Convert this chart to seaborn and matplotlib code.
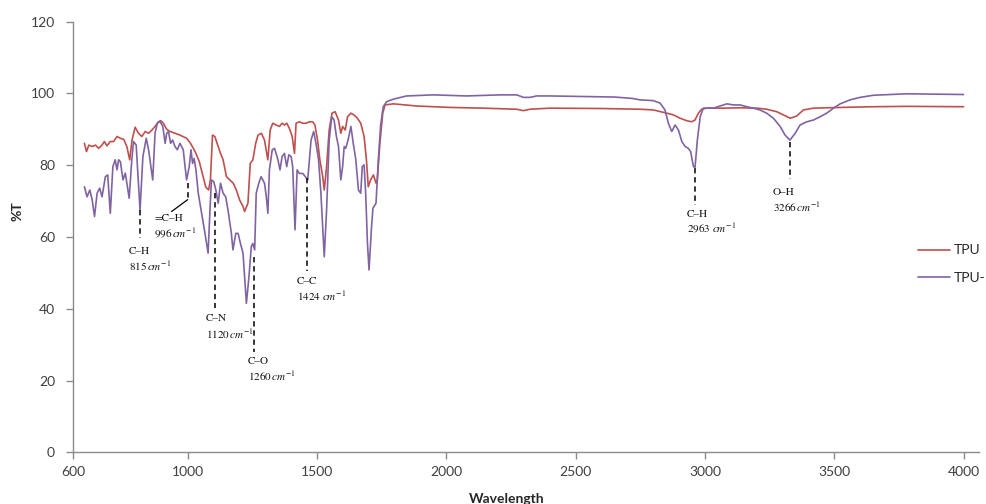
import matplotlib
matplotlib.use("Agg")
import pandas as pd
import seaborn as sns
import matplotlib.pyplot as plt

# spectra (wavenumber, %T)
tpu = [(601, 86.1), (609, 83.8), (618, 85.6), (631, 85.2), (644, 85.6), (656, 84.7), (669, 85.6),
       (678, 86.6), (688, 85.4), (701, 86.6), (714, 86.6), (727, 88.0), (740, 87.5), (753, 87.2),
       (765, 85.2), (776, 81.5), (785, 87.0), (797, 90.6), (810, 88.9), (823, 88.0), (836, 89.4),
       (849, 88.9), (862, 89.8), (874, 90.8), (887, 92.1), (896, 92.4), (906, 91.7), (919, 90.0),
       (932, 89.4), (951, 88.9), (970, 88.4), (996, 87.5), (1011, 86.1), (1022, 84.7), (1032, 83.3),
       (1045, 81.0), (1058, 77.3), (1070, 73.9), (1081, 73.1), (1088, 75.9), (1096, 88.4),
       (1105, 88.0), (1118, 85.2), (1127, 83.3), (1137, 81.5), (1150, 76.8), (1163, 75.9),
       (1176, 75.0), (1188, 73.1), (1201, 70.3), (1214, 68.5), (1220, 67.1), (1233, 69.4),
       (1242, 80.5), (1252, 81.5), (1263, 86.1), (1272, 88.4), (1285, 88.9), (1297, 87.0),
       (1310, 81.5), (1319, 89.8), (1329, 91.7), (1342, 91.2), (1355, 90.8), (1365, 91.7),
       (1374, 91.2), (1383, 91.7), (1393, 90.3), (1404, 88.0), (1413, 83.3), (1419, 91.7),
       (1432, 92.1), (1445, 91.7), (1458, 91.7), (1470, 92.1), (1483, 92.1), (1492, 91.2),
       (1502, 87.0), (1511, 81.5), (1522, 76.8), (1528, 73.1), (1537, 79.6), (1547, 89.8),
       (1558, 94.5), (1570, 94.9), (1583, 92.6), (1592, 88.9), (1599, 90.8), (1609, 89.8),
       (1618, 93.5), (1631, 94.5), (1643, 94.0), (1656, 93.1), (1669, 91.7), (1682, 88.0),
       (1691, 81.5), (1698, 74.0), (1707, 75.9), (1718, 77.3), (1728, 75.0), (1733, 75.9),
       (1743, 86.1), (1754, 94.5), (1763, 96.8), (1795, 97.1), (1885, 96.5), (2014, 96.1),
       (2143, 95.9), (2272, 95.6), (2298, 95.2), (2323, 95.6), (2401, 95.9), (2600, 95.8),
       (2749, 95.6), (2800, 95.4), (2852, 94.5), (2878, 94.0), (2903, 93.1), (2929, 92.4),
       (2948, 92.1), (2961, 92.6), (2974, 94.5), (2987, 95.6), (3006, 95.9), (3071, 95.9),
       (3135, 96.0), (3200, 95.9), (3238, 95.6), (3277, 94.9), (3303, 94.0), (3329, 93.1),
       (3354, 93.7), (3380, 95.4), (3419, 95.9), (3522, 96.1), (3651, 96.3), (3780, 96.4),
       (3999, 96.3)]

tpu_h = [(601, 74.0), (611, 71.2), (622, 73.1), (631, 70.3), (640, 65.7), (650, 72.2), (660, 73.6),
         (669, 71.2), (682, 76.8), (691, 77.3), (701, 66.6), (711, 79.6), (720, 81.5), (727, 78.7),
         (733, 81.5), (740, 81.0), (750, 75.9), (759, 77.8), (765, 75.0), (774, 70.8), (784, 81.5),
         (791, 86.6), (801, 85.6), (810, 75.0), (816, 67.5), (827, 82.4), (840, 87.5), (849, 84.3),
         (858, 79.6), (865, 75.9), (874, 88.9), (883, 91.7), (893, 92.2), (904, 90.8), (913, 86.1),
         (919, 88.9), (926, 89.4), (934, 86.1), (942, 87.0), (951, 85.2), (960, 84.3), (970, 86.1),
         (983, 84.3), (990, 79.6), (996, 75.9), (1006, 79.6), (1013, 84.3), (1019, 80.5),
         (1025, 81.9), (1032, 78.7), (1041, 72.2), (1054, 66.6), (1067, 61.0), (1079, 55.5),
         (1088, 70.3), (1092, 75.9), (1101, 75.4), (1109, 73.1), (1118, 69.4), (1127, 75.0),
         (1137, 72.2), (1147, 71.2), (1156, 67.5), (1169, 61.0), (1175, 56.4), (1186, 61.0),
         (1195, 61.0), (1204, 58.2), (1214, 55.5), (1220, 49.0), (1227, 41.5), (1237, 49.0),
         (1246, 57.3), (1252, 58.2), (1259, 56.4), (1265, 72.2), (1275, 75.0), (1284, 76.8),
         (1297, 75.0), (1304, 71.2), (1310, 66.6), (1316, 78.7), (1327, 84.3), (1336, 84.7),
         (1349, 81.5), (1357, 78.7), (1365, 82.4), (1374, 83.3), (1383, 79.6), (1391, 82.9),
         (1400, 82.4), (1406, 79.6), (1415, 62.0), (1423, 78.7), (1432, 77.7), (1445, 77.7),
         (1455, 76.8), (1464, 75.9), (1477, 87.0), (1487, 89.4), (1496, 86.1), (1506, 81.5),
         (1515, 72.2), (1528, 54.5), (1537, 67.5), (1547, 87.0), (1557, 93.5), (1566, 92.6),
         (1575, 88.0), (1583, 85.2), (1592, 75.9), (1599, 79.6), (1605, 85.2), (1611, 84.7),
         (1620, 87.0), (1631, 90.8), (1640, 86.1), (1650, 81.5), (1660, 73.1), (1669, 72.2),
         (1675, 79.6), (1682, 80.1), (1688, 72.2), (1695, 58.2), (1701, 50.8), (1710, 62.0),
         (1716, 68.0), (1728, 69.4), (1737, 81.5), (1746, 91.2), (1756, 96.3), (1769, 97.7),
         (1795, 98.4), (1846, 99.3), (1950, 99.6), (2078, 99.3), (2207, 99.6), (2272, 99.6),
         (2298, 98.9), (2323, 98.9), (2349, 99.3), (2401, 99.3), (2650, 99.0), (2720, 98.6),
         (2749, 98.2), (2800, 98.0), (2826, 97.3), (2845, 95.4), (2858, 91.7), (2871, 89.4),
         (2884, 91.2), (2897, 89.8), (2910, 86.6), (2923, 85.2), (2935, 84.7), (2944, 83.8),
         (2955, 79.6), (2961, 79.4), (2970, 87.0), (2981, 93.5), (2993, 95.9), (3006, 95.9),
         (3032, 95.9), (3058, 96.5), (3084, 97.1), (3109, 96.8), (3135, 96.8), (3161, 96.3),
         (3187, 95.9), (3212, 95.4), (3238, 94.5), (3264, 93.1), (3290, 90.8), (3309, 88.4),
         (3328, 87.0), (3348, 88.9), (3367, 91.2), (3393, 92.1), (3419, 92.6), (3444, 93.5),
         (3470, 94.5), (3496, 95.9), (3522, 97.1), (3560, 98.2), (3599, 98.9), (3651, 99.5),
         (3715, 99.7), (3780, 99.9), (3908, 99.8), (3999, 99.7)]

samples = ['TPU', 'TPU-H']
colors = ['#C0504D', '#8064A2']

# peak annotations
peak_names = ['C–H', '=C–H', 'C–N', 'C–O', 'C–C', 'C–H', 'O–H']
peak_wn = ['815$\\,cm^{-1}$', '996$\\,cm^{-1}$', '1120$\\,cm^{-1}$', '1260$\\,cm^{-1}$',
           '1424 $cm^{-1}$', '2963 $cm^{-1}$', '3266$\\,cm^{-1}$']
peak_x = [816, 1000, 1105, 1257, 1463, 2962, 3328]
line_top = [67.5, 75.0, 72.2, 54.5, 76.3, 79.2, 86.6]
line_bottom = [59.7, 70.4, 40.1, 28.0, 50.4, 68.9, 76.1]
text_x = [774, 871, 1070, 1233, 1423, 2929, 3262]
name_y = [56.0, 65.2, 37.3, 25.3, 47.7, 66.4, 72.4]
wn_y = [51.9, 61.2, 33.0, 21.3, 43.6, 62.6, 68.3]

xticks = [557, 1000, 1500, 2000, 2500, 3000, 3500, 4000]
xticklabels = ['600', '1000', '1500', '2000', '2500', '3000', '3500', '4000']

rows = []
for name, pts in zip(samples, [tpu, tpu_h]):
    for w, t in pts:
        rows.append({'wavenumber': w, 'T': t, 'sample': name})
df = pd.DataFrame(rows)

sns.set_style('white')
plt.rcParams['font.family'] = ['Lato', 'DejaVu Sans']
plt.rcParams['mathtext.fontset'] = 'stix'

fig = plt.figure(figsize=(9.87, 5.04), dpi=100)
ax = fig.add_axes([0.074, 0.1026, 0.918, 0.8544])

sns.lineplot(data=df, x='wavenumber', y='T', hue='sample', palette=colors,
             estimator=None, sort=False, linewidth=1.2, ax=ax)

ax.set_xlim(557, 4059)
ax.set_ylim(0, 120)
ax.set_xticks(xticks)
ax.set_xticklabels(xticklabels)
ax.set_yticks(range(0, 121, 20))
ax.set_xlabel('')
ax.set_ylabel('')
sns.despine(ax=ax)
for s in ['left', 'bottom']:
    ax.spines[s].set_color('#8c8c8c')
    ax.spines[s].set_linewidth(1.0)
ax.tick_params(axis='both', direction='out', length=5, width=1, color='#8c8c8c',
               labelsize=10, labelcolor='#404040', pad=5, left=True, bottom=True)
ax.tick_params(axis='y', pad=8)

fig.text(18 / 987, 1 - 211 / 504, '%T', rotation=90, ha='center', va='center',
         fontsize=10, fontweight='bold', color='#262626')
fig.text(507 / 987, 1 - 493 / 504, 'Wavelength', ha='center', va='top',
         fontsize=10, fontweight='bold', color='#262626')

for i in range(len(peak_x)):
    ax.plot([peak_x[i], peak_x[i]], [line_top[i], line_bottom[i]], color='black',
            lw=1.1, ls=(0, (3.5, 2.5)))
    ax.text(text_x[i], name_y[i], peak_names[i], family='STIXGeneral', fontsize=8,
            ha='left', va='center', color='#111111')
    ax.text(text_x[i], wn_y[i], peak_wn[i], family='STIXGeneral', fontsize=8,
            ha='left', va='center', color='#111111')
# leader from the =C-H line to its label
ax.plot([1000, 938], [70.4, 67.1], color='black', lw=0.9)

handles, labels = ax.get_legend_handles_labels()
ax.legend(handles, samples, loc='center left', bbox_to_anchor=(918 / 987, 1 - 264 / 504),
          bbox_transform=fig.transFigure, frameon=False, fontsize=10, borderpad=0,
          borderaxespad=0, handlelength=2.3, handletextpad=0.3, labelspacing=1.1,
          labelcolor='#262626')

fig.savefig('out.png', dpi=100)
